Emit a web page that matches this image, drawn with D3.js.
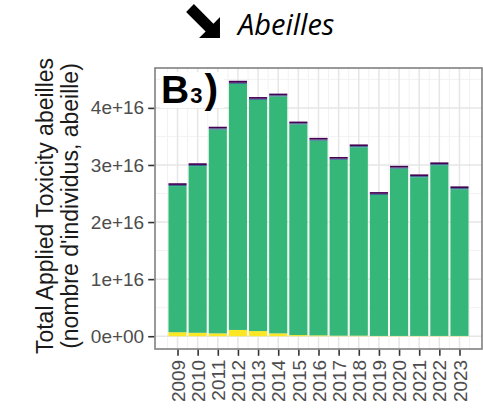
<!DOCTYPE html>
<html>
<head>
<meta charset="utf-8">
<script src="https://cdn.jsdelivr.net/npm/d3@7"></script>
<style>
  html, body { margin: 0; padding: 0; background: #fff; }
  svg { display: block; }
</style>
</head>
<body>
<svg id="chart" width="483" height="413"></svg>
<script>
// Annual totals of applied toxicity for bees, split in four stacked groups
const years = ["2009","2010","2011","2012","2013","2014","2015","2016","2017","2018","2019","2020","2021","2022","2023"];
const groupYellow = [0.07e16, 0.06e16, 0.05e16, 0.11e16, 0.09e16, 0.05e16, 0.02e16, 0.015e16, 0.01e16, 0.01e16, 0.005e16, 0.005e16, 0.005e16, 0.005e16, 0.005e16];
const groupGreen  = [2.56e16, 2.92e16, 3.57e16, 4.31e16, 4.05e16, 4.15e16, 3.69e16, 3.41e16, 3.08e16, 3.30e16, 2.47e16, 2.93e16, 2.78e16, 2.99e16, 2.57e16];
const groupBlue   = [0.02e16, 0.02e16, 0.02e16, 0.02e16, 0.02e16, 0.02e16, 0.02e16, 0.02e16, 0.02e16, 0.02e16, 0.02e16, 0.02e16, 0.02e16, 0.02e16, 0.02e16];
const groupPurple = [0.03e16, 0.03e16, 0.03e16, 0.035e16, 0.03e16, 0.03e16, 0.03e16, 0.03e16, 0.03e16, 0.03e16, 0.03e16, 0.03e16, 0.03e16, 0.03e16, 0.03e16];
const yTicks = [0, 1e16, 2e16, 3e16, 4e16];
const yTickLabels = ["0e+00", "1e+16", "2e+16", "3e+16", "4e+16"];

const keys = ["yellow", "green", "blue", "purple"];
const fills = { yellow: "#FDE725", green: "#35B779", blue: "#31688E", purple: "#440154" };

const rows = years.map((y, i) => ({
  year: y,
  yellow: groupYellow[i],
  green: groupGreen[i],
  blue: groupBlue[i],
  purple: groupPurple[i]
}));

const svg = d3.select("#chart");
const panel = { left: 155, right: 482, top: 68, bottom: 349 };

// discrete x positions (category centres) and bar width
const x = d3.scalePoint().domain(years).range([panel.left, panel.right]).padding(1.118);
const step = x.step();
const barW = step * 0.9;

const stacked = d3.stack().keys(keys)(rows);
const maxTotal = d3.max(stacked[stacked.length - 1], d => d[1]);
const pad = maxTotal * 0.05;
const y = d3.scaleLinear().domain([-pad, maxTotal + pad]).range([panel.bottom, panel.top]);

// panel background
svg.append("rect")
  .attr("x", panel.left).attr("y", panel.top)
  .attr("width", panel.right - panel.left).attr("height", panel.bottom - panel.top)
  .attr("fill", "#fff");

const grid = svg.append("g");
// minor horizontal grid
d3.range(-0.5e16, 5e16, 1e16).filter(v => v > y.domain()[0] && v < y.domain()[1]).forEach(v => {
  grid.append("line")
    .attr("x1", panel.left).attr("x2", panel.right)
    .attr("y1", y(v)).attr("y2", y(v))
    .attr("stroke", "#f2f2f2").attr("stroke-width", 1);
});
// minor vertical grid between categories
d3.range(years.length + 1).forEach(i => {
  const xv = x(years[0]) + (i - 0.5) * step;
  grid.append("line")
    .attr("x1", xv).attr("x2", xv)
    .attr("y1", panel.top).attr("y2", panel.bottom)
    .attr("stroke", "#f2f2f2").attr("stroke-width", 1);
});
// major horizontal grid
yTicks.forEach(v => {
  grid.append("line")
    .attr("x1", panel.left).attr("x2", panel.right)
    .attr("y1", y(v)).attr("y2", y(v))
    .attr("stroke", "#e6e6e6").attr("stroke-width", 1.5);
});
// major vertical grid
years.forEach(yr => {
  grid.append("line")
    .attr("x1", x(yr)).attr("x2", x(yr))
    .attr("y1", panel.top).attr("y2", panel.bottom)
    .attr("stroke", "#e6e6e6").attr("stroke-width", 1.5);
});

// stacked bars
svg.append("g")
  .selectAll("g")
  .data(stacked)
  .join("g")
  .attr("fill", d => fills[d.key])
  .selectAll("rect")
  .data(d => d)
  .join("rect")
  .attr("x", d => x(d.data.year) - barW / 2)
  .attr("width", barW)
  .attr("y", d => y(d[1]))
  .attr("height", d => y(d[0]) - y(d[1]));

// panel label
svg.append("rect")
  .attr("x", 160).attr("y", 72).attr("width", 64).attr("height", 36)
  .attr("fill", "#fff");
const lab = svg.append("text")
  .attr("x", 161).attr("y", 103)
  .attr("font-family", "Liberation Sans, Arial, sans-serif")
  .attr("font-weight", "bold")
  .attr("fill", "#000");
lab.append("tspan").attr("font-size", 39).text("B");
lab.append("tspan").attr("font-size", 22).attr("dx", 1).text("3");
lab.append("tspan").attr("font-size", 41).attr("dx", 2).text(")");

// panel border
svg.append("rect")
  .attr("x", panel.left).attr("y", panel.top)
  .attr("width", panel.right - panel.left).attr("height", panel.bottom - panel.top)
  .attr("fill", "none").attr("stroke", "#808080").attr("stroke-width", 1.6);

// y axis
const yAxis = d3.axisLeft(y).tickValues(yTicks).tickFormat((d, i) => yTickLabels[i]).tickSize(6).tickPadding(4);
const gy = svg.append("g").attr("transform", `translate(${panel.left - 0.8},0)`).call(yAxis);
gy.select(".domain").remove();
gy.selectAll(".tick line").attr("stroke", "#333").attr("stroke-width", 1.6);
gy.selectAll(".tick text")
  .attr("font-family", "Liberation Sans, Arial, sans-serif")
  .attr("font-size", 19).attr("fill", "#4d4d4d");

// x axis
const xAxis = d3.axisBottom(x).tickSize(6).tickPadding(4);
const gx = svg.append("g").attr("transform", `translate(0,${panel.bottom + 0.8})`).call(xAxis);
gx.select(".domain").remove();
gx.selectAll(".tick line").attr("stroke", "#333").attr("stroke-width", 1.6);
gx.selectAll(".tick text")
  .attr("font-family", "Liberation Sans, Arial, sans-serif")
  .attr("font-size", 19).attr("fill", "#4d4d4d")
  .attr("transform", "rotate(-90)")
  .attr("text-anchor", "end")
  .attr("dy", "0.35em")
  .attr("x", -10).attr("y", 0);

// y axis title (two lines)
const titleFont = "Liberation Sans, Arial, sans-serif";
const cy = 206;
[["Total Applied Toxicity abeilles", 53], ["(nombre d'individus, abeille)", 78]].forEach(([t, bx]) => {
  svg.append("text")
    .attr("transform", `translate(${bx},${cy}) rotate(-90)`)
    .attr("text-anchor", "middle")
    .attr("font-family", titleFont)
    .attr("font-size", 23)
    .attr("fill", "#1a1a1a")
    .text(t);
});

// header: arrow and species name
const L = 42.4, h = 14.8, w = 5.5, s = L - h;
const arrow = d3.path();
arrow.moveTo(0, -w);
arrow.lineTo(s, -w);
arrow.lineTo(s, -h);
arrow.lineTo(L, 0);
arrow.lineTo(s, h);
arrow.lineTo(s, w);
arrow.lineTo(0, w);
arrow.closePath();
svg.append("path")
  .attr("d", arrow.toString())
  .attr("transform", "translate(190,8) rotate(45)")
  .attr("fill", "#000");

svg.append("text")
  .attr("x", 238).attr("y", 35)
  .attr("font-family", "Open Sans, sans-serif")
  .attr("font-style", "italic")
  .attr("font-size", 29)
  .attr("fill", "#000")
  .text("Abeilles");
</script>
</body>
</html>
